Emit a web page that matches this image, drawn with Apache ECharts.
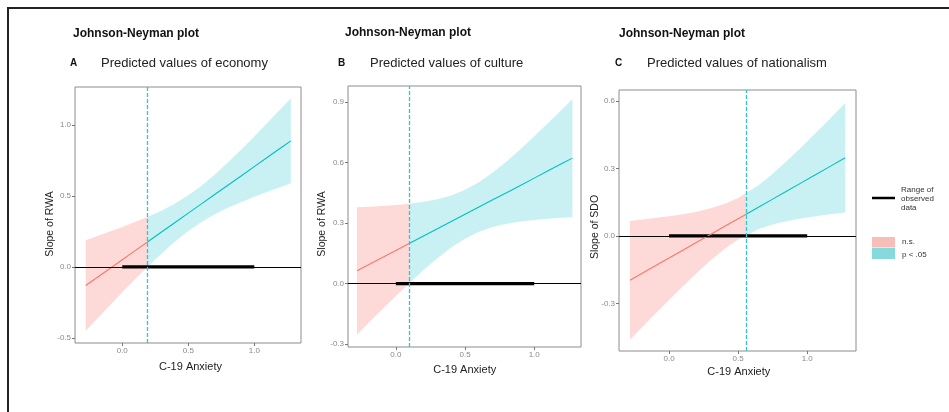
<!DOCTYPE html>
<html><head><meta charset="utf-8">
<script src="https://cdn.jsdelivr.net/npm/echarts@6/dist/echarts.min.js"></script>
<style>html,body{margin:0;padding:0;background:#fff}#c{width:949px;height:412px}</style>
</head><body><div id="c"></div><script>
// ---- data ----
const xTicks = [0, 0.5, 1.0];
const yTicksA = [-0.5, 0, 0.5, 1.0];
const yTicksB = [-0.3, 0, 0.3, 0.6, 0.9];
const yTicksC = [-0.3, 0, 0.3, 0.6];
const observedRange = [0, 1];

const panelTitles = ['Predicted values of economy', 'Predicted values of culture', 'Predicted values of nationalism'];
const panelLetters = ['A', 'B', 'C'];
const yNames = ['Slope of RWA', 'Slope of RWA', 'Slope of SDO'];
const xName = 'C-19 Anxiety';
const mainTitle = 'Johnson-Neyman plot';

const xsA = [-0.277, -0.15, 0.0, 0.1, 0.191, 0.3, 0.4, 0.5, 0.6, 0.7, 0.8, 0.9, 1.0, 1.1, 1.2, 1.277];
const slopeA = [-0.131, -0.048, 0.051, 0.117, 0.176, 0.248, 0.314, 0.380, 0.445, 0.511, 0.577, 0.642, 0.708, 0.774, 0.839, 0.890];
const lowerA = [-0.451, -0.325, -0.179, -0.084, 0.000, 0.097, 0.180, 0.254, 0.317, 0.371, 0.417, 0.457, 0.495, 0.531, 0.564, 0.590];
const upperA = [0.189, 0.230, 0.281, 0.318, 0.352, 0.399, 0.448, 0.506, 0.573, 0.651, 0.737, 0.827, 0.921, 1.017, 1.114, 1.190];
const jnA = 0.191;

const xsB = [-0.281, -0.15, 0.0, 0.095, 0.2, 0.3, 0.4, 0.5, 0.6, 0.7, 0.8, 0.9, 1.0, 1.1, 1.2, 1.276];
const slopeB = [0.063, 0.110, 0.164, 0.198, 0.236, 0.271, 0.307, 0.343, 0.379, 0.415, 0.450, 0.486, 0.522, 0.558, 0.594, 0.621];
const lowerB = [-0.252, -0.162, -0.061, 0.000, 0.067, 0.125, 0.178, 0.222, 0.256, 0.280, 0.296, 0.307, 0.315, 0.321, 0.326, 0.328];
const upperB = [0.378, 0.382, 0.389, 0.395, 0.405, 0.417, 0.436, 0.464, 0.502, 0.550, 0.604, 0.665, 0.729, 0.795, 0.862, 0.914];
const jnB = 0.095;

const xsC = [-0.283, -0.15, 0.0, 0.1, 0.2, 0.3, 0.4, 0.5, 0.558, 0.65, 0.75, 0.85, 0.95, 1.05, 1.15, 1.275];
const slopeC = [-0.198, -0.151, -0.099, -0.064, -0.029, 0.006, 0.041, 0.076, 0.096, 0.128, 0.163, 0.198, 0.233, 0.268, 0.303, 0.347];
const lowerC = [-0.462, -0.378, -0.285, -0.224, -0.165, -0.110, -0.059, -0.016, 0.000, 0.030, 0.050, 0.065, 0.077, 0.086, 0.095, 0.104];
const upperC = [0.066, 0.076, 0.087, 0.096, 0.107, 0.122, 0.141, 0.168, 0.190, 0.226, 0.276, 0.331, 0.389, 0.450, 0.511, 0.590];
const jnC = 0.558;

const legendLabels = ['Range of', 'observed', 'data', 'n.s.', 'p < .05'];

// ---- styling / layout ----
const FONT = '"Liberation Sans", Arial, sans-serif';
const PINK = '#F8766D', CYAN = '#00BFC4';
const PINK_BAND = 'rgba(248,118,109,0.27)', CYAN_BAND = 'rgba(0,191,196,0.21)';

const panels = [
  {xs: xsA, slope: slopeA, lo: lowerA, hi: upperA, jn: jnA, yTicks: yTicksA,
   grid: {left: 75, top: 87, width: 226, height: 256}, xmin: -0.358, xmax: 1.354, ymin: -0.537, ymax: 1.27},
  {xs: xsB, slope: slopeB, lo: lowerB, hi: upperB, jn: jnB, yTicks: yTicksB,
   grid: {left: 348, top: 86, width: 233, height: 261}, xmin: -0.346, xmax: 1.338, ymin: -0.314, ymax: 0.978},
  {xs: xsC, slope: slopeC, lo: lowerC, hi: upperC, jn: jnC, yTicks: yTicksC,
   grid: {left: 619, top: 90, width: 237, height: 261}, xmin: -0.362, xmax: 1.353, ymin: -0.512, ymax: 0.648}
];

const grids = [], xAxes = [], yAxes = [], series = [];
const fmt1 = v => v.toFixed(1);

function bandSeries(i, p, sig, color) {
  const idx = p.xs.map((x, k) => k).filter(k => sig ? p.xs[k] >= p.jn : p.xs[k] <= p.jn);
  return {
    type: 'custom', xAxisIndex: i, yAxisIndex: i, silent: true, z: 1,
    data: [[p.xs[idx[0]], p.lo[idx[0]]]],
    renderItem: function (params, api) {
      const pts = [];
      idx.forEach(k => pts.push(api.coord([p.xs[k], p.hi[k]])));
      idx.slice().reverse().forEach(k => pts.push(api.coord([p.xs[k], p.lo[k]])));
      return {type: 'polygon', shape: {points: pts}, style: {fill: color, stroke: null}};
    }
  };
}
function lineSeries(i, p, sig, color) {
  const d = [];
  p.xs.forEach((x, k) => { if (sig ? x >= p.jn : x <= p.jn) d.push([x, p.slope[k]]); });
  return {type: 'line', xAxisIndex: i, yAxisIndex: i, data: d, showSymbol: false, silent: true, z: 4,
    lineStyle: {color: color, width: 1.1}};
}

panels.forEach((p, i) => {
  grids.push(Object.assign({show: true, borderColor: '#8c8c8c', borderWidth: 1, backgroundColor: 'transparent', containLabel: false}, p.grid));
  xAxes.push({type: 'value', gridIndex: i, min: p.xmin, max: p.xmax,
    axisLine: {show: false, onZero: false}, splitLine: {show: false},
    axisTick: {show: true, length: 3, lineStyle: {color: '#777'}, customValues: xTicks},
    axisLabel: {customValues: xTicks, formatter: fmt1, fontSize: 8, color: '#8a8a8a', margin: 4, fontFamily: FONT}});
  yAxes.push({type: 'value', gridIndex: i, min: p.ymin, max: p.ymax,
    axisLine: {show: false, onZero: false}, splitLine: {show: false},
    axisTick: {show: true, length: 3, lineStyle: {color: '#777'}, customValues: p.yTicks},
    axisLabel: {customValues: p.yTicks, formatter: fmt1, fontSize: 8, color: '#8a8a8a', margin: 4, fontFamily: FONT}});
  series.push(bandSeries(i, p, false, PINK_BAND));
  series.push(bandSeries(i, p, true, CYAN_BAND));
  series.push({type: 'line', xAxisIndex: i, yAxisIndex: i, showSymbol: false, silent: true, z: 3,
    data: [[observedRange[0], 0], [observedRange[1], 0]],
    lineStyle: {color: '#000', width: 3.2},
    markLine: {silent: true, symbol: ['none', 'none'], label: {show: false}, animation: false,
      data: [{yAxis: 0, lineStyle: {color: '#000', width: 1, type: 'solid'}},
             {xAxis: p.jn, lineStyle: {color: '#33C6CE', width: 1.3, type: [4, 2]}}]}});
  series.push(lineSeries(i, p, false, PINK));
  series.push(lineSeries(i, p, true, CYAN));
});

// ---- text & decoration ----
const graphic = [
  {type: 'rect', shape: {x: 8, y: 8, width: 1000, height: 500}, style: {fill: null, stroke: '#222', lineWidth: 2}, silent: true}
];
const titleX = [73, 345, 619], titleY = [34, 33, 34];
const letterX = [70, 338, 615], subX = [101, 370, 647], subY = 63;
const yNameX = [50, 322, 595], yNameY = [224, 224, 227];
const xNameX = [190.5, 464.7, 738.8], xNameY = [367, 370, 372];
for (let i = 0; i < 3; i++) {
  graphic.push({type: 'text', x: titleX[i], y: titleY[i], silent: true,
    style: {text: mainTitle, font: 'bold 12px ' + FONT, fill: '#111', textVerticalAlign: 'middle'}});
  graphic.push({type: 'text', x: letterX[i], y: subY, silent: true,
    style: {text: panelLetters[i], font: 'bold 10px ' + FONT, fill: '#111', textVerticalAlign: 'middle'}});
  graphic.push({type: 'text', x: subX[i], y: subY, silent: true,
    style: {text: panelTitles[i], font: '13px ' + FONT, fill: '#222', textVerticalAlign: 'middle'}});
  graphic.push({type: 'text', x: yNameX[i], y: yNameY[i], rotation: Math.PI / 2, silent: true,
    style: {text: yNames[i], font: '10.5px ' + FONT, fill: '#222', textAlign: 'center', textVerticalAlign: 'middle'}});
  graphic.push({type: 'text', x: xNameX[i], y: xNameY[i], silent: true,
    style: {text: xName, font: '11px ' + FONT, fill: '#222', textAlign: 'center', textVerticalAlign: 'middle'}});
}
// legend
graphic.push({type: 'line', shape: {x1: 872, y1: 198, x2: 895, y2: 198}, style: {stroke: '#000', lineWidth: 2.5}, silent: true});
[190, 199, 208].forEach((yy, k) => graphic.push({type: 'text', x: 901, y: yy, silent: true,
  style: {text: legendLabels[k], font: '8px ' + FONT, fill: '#333', textVerticalAlign: 'middle'}}));
graphic.push({type: 'rect', shape: {x: 872, y: 237, width: 23, height: 10.5}, style: {fill: '#F7BDB8'}, silent: true});
graphic.push({type: 'rect', shape: {x: 872, y: 248, width: 23, height: 11}, style: {fill: '#86DADE'}, silent: true});
graphic.push({type: 'text', x: 902, y: 242, silent: true, style: {text: legendLabels[3], font: '8px ' + FONT, fill: '#333', textVerticalAlign: 'middle'}});
graphic.push({type: 'text', x: 902, y: 255, silent: true, style: {text: legendLabels[4], font: '8px ' + FONT, fill: '#333', textVerticalAlign: 'middle'}});

const chart = echarts.init(document.getElementById('c'), null, {renderer: 'canvas'});
chart.setOption({
  animation: false,
  backgroundColor: '#fff',
  textStyle: {fontFamily: FONT},
  grid: grids, xAxis: xAxes, yAxis: yAxes, series: series, graphic: graphic
});
</script></body></html>
